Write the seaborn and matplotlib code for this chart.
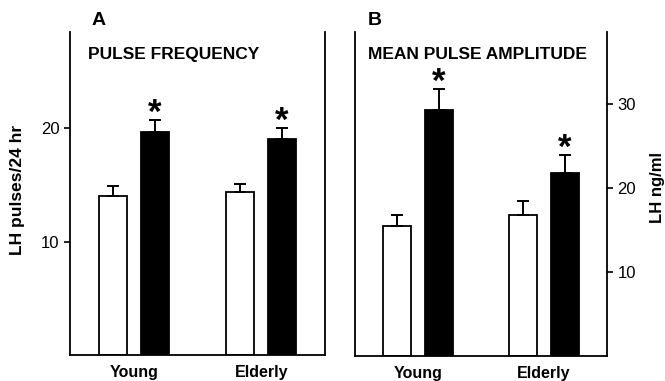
import numpy as np
import pandas as pd
import matplotlib
matplotlib.use('Agg')
import matplotlib.pyplot as plt
import seaborn as sns

# order is Young/open, Young/filled, Elderly/open, Elderly/filled
groups = ['Young', 'Elderly']
conditions = ['Control', 'Treated']
freq_mean = [14.0, 19.7, 14.4, 19.1]
freq_sem = [0.9, 1.0, 0.7, 0.9]
amp_mean = [15.4, 29.2, 16.8, 21.8]
amp_sem = [1.3, 2.5, 1.65, 2.1]
signif = [False, True, False, True]

sns.set_style('ticks')
plt.rcParams['font.family'] = ['Liberation Sans', 'DejaVu Sans']
plt.rcParams['text.color'] = 'black'
plt.rcParams['axes.labelcolor'] = 'black'
plt.rcParams['xtick.color'] = 'black'
plt.rcParams['ytick.color'] = 'black'

df = pd.DataFrame({
    'group': np.repeat(groups, 2),
    'condition': conditions * 2,
    'freq': freq_mean,
    'amp': amp_mean,
})


def draw_panel(ax, col, sem, letter, title, ylim, ticks, ylabel, right=False):
    sns.barplot(data=df, x='group', y=col, hue='condition', order=groups,
                hue_order=conditions, palette=['white', 'black'],
                edgecolor='black', linewidth=1.3, width=0.656, gap=0.33,
                errorbar=None, legend=False, ax=ax)
    bar_sets = list(ax.containers)
    for ci, cont in enumerate(bar_sets):
        for gi, bar in enumerate(cont):
            idx = gi * 2 + ci
            x = bar.get_x() + bar.get_width() / 2
            y = bar.get_height()
            ax.errorbar(x, y, yerr=[[0], [sem[idx]]], fmt='none', ecolor='black',
                        elinewidth=1.4, capsize=4, capthick=1.4, zorder=3)
            if signif[idx]:
                ax.annotate('*', (x, y + sem[idx]), xytext=(0, -7),
                            textcoords='offset points', ha='center', va='bottom',
                            fontsize=25, fontweight='bold')

    ax.set_xlim(-0.5, 1.5)
    ax.set_ylim(*ylim)
    ax.set_yticks(ticks)
    ax.set_xlabel('')
    ax.tick_params(axis='x', length=0, pad=7)
    for lab in ax.get_xticklabels():
        lab.set_fontweight('bold')
        lab.set_fontsize(11.5)
    ax.tick_params(axis='y', direction='out', length=4, width=1.2, labelsize=12)

    for side in ['left', 'right', 'bottom']:
        ax.spines[side].set_visible(True)
        ax.spines[side].set_linewidth(1.3)
        ax.spines[side].set_color('black')
    ax.spines['top'].set_visible(False)

    if right:
        ax.set_ylabel(ylabel, fontsize=12, fontweight='bold')
        ax.yaxis.tick_right()
        ax.yaxis.set_label_position('right')
        ax.yaxis.set_label_coords(1.17, 0.52)
    else:
        ax.set_ylabel(ylabel, fontsize=12.5, fontweight='bold')
        ax.yaxis.set_label_coords(-0.175, 0.51)

    ax.text(0.052 if right else 0.085, 1.035, letter, transform=ax.transAxes,
            fontsize=14, fontweight='bold', va='center', ha='left')
    ax.text(0.05 if right else 0.07, 0.93, title, transform=ax.transAxes,
            fontsize=12.5, fontweight='bold', va='center', ha='left')


fig = plt.figure(figsize=(6.65, 3.81), dpi=100)
axA = fig.add_axes([70 / 665, 1 - 355 / 381, 255 / 665, 323 / 381])
axB = fig.add_axes([355 / 665, 1 - 356 / 381, 252 / 665, 324 / 381])

draw_panel(axA, 'freq', freq_sem, 'A', 'PULSE FREQUENCY', (0, 28.5), [10, 20],
           'LH pulses/24 hr')
draw_panel(axB, 'amp', amp_sem, 'B', 'MEAN PULSE AMPLITUDE', (0, 38.5), [10, 20, 30],
           'LH ng/ml', right=True)

fig.savefig('out.png', dpi=100)
